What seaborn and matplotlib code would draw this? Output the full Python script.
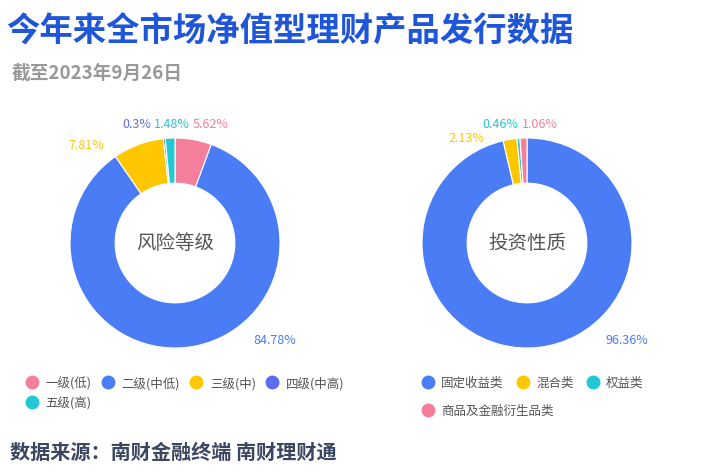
import matplotlib
matplotlib.use("Agg")
import matplotlib.pyplot as plt
import seaborn as sns
from matplotlib.lines import Line2D

sns.set_theme(style="white", rc={"font.family": "Noto Sans CJK SC"})

risk_labels = ["一级(低)", "二级(中低)", "三级(中)", "四级(中高)", "五级(高)"]
risk_values = [5.62, 84.78, 7.81, 0.30, 1.48]
risk_colors = ["#F47F9A", "#4A7CF6", "#FFC700", "#5B6EF0", "#22C9D4"]

type_labels = ["固定收益类", "混合类", "权益类", "商品及金融衍生品类"]
type_values = [96.36, 2.13, 0.46, 1.06]
type_colors = ["#4A7CF6", "#FFC700", "#22C9D4", "#F47F9A"]

W, H = 702, 477
fig = plt.figure(figsize=(W / 100, H / 100), dpi=100)
R = 105
half = 1.7

def add_donut(cx, cy, values, colors, center_text, label_pos):
    size = 2 * half * R
    ax = fig.add_axes([(cx - half * R) / W, 1 - (cy + half * R) / H, size / W, size / H])
    ax.pie(values, colors=colors, startangle=90, counterclock=False,
           wedgeprops=dict(width=0.43, edgecolor="white", linewidth=0.8), radius=1)
    ax.set_xlim(-half, half); ax.set_ylim(-half, half); ax.set_aspect("equal"); ax.axis("off")
    ax.text(0, 0, center_text, ha="center", va="center", fontsize=14, color="#555555")
    for v, c, (x, y) in zip(values, colors, label_pos):
        ax.text(x, y, f"{v:g}%", ha="center", va="center", fontsize=9, color=c)
    return ax

add_donut(175, 244, risk_values, risk_colors, "风险等级",
          [(0.34, 1.14), (0.95, -0.92), (-0.84, 0.94), (-0.36, 1.14), (-0.03, 1.14)])
add_donut(527, 244, type_values, type_colors, "投资性质",
          [(0.95, -0.92), (-0.58, 1.00), (-0.25, 1.14), (0.12, 1.14)])

fig.text(6 / W, 1 - 32 / H, "今年来全市场净值型理财产品发行数据", fontsize=24, fontweight="bold",
         color="#1F55D8", va="center")
fig.text(12 / W, 1 - 73 / H, "截至2023年9月26日", fontsize=13.5, fontweight="bold",
         color="#999999", va="center")
fig.text(10 / W, 1 - 452 / H, "数据来源：南财金融终端 南财理财通", fontsize=14.5, fontweight="bold",
         color="#3B4660", va="center")

def handles(idx, labels, colors):
    return [Line2D([], [], marker="o", linestyle="", markersize=9, markerfacecolor=colors[i],
                   markeredgecolor=colors[i], label=labels[i]) for i in idx]

leg_kw = dict(frameon=False, fontsize=9, handletextpad=0.1, borderaxespad=0,
              labelcolor="#555555", labelspacing=0.55, loc="upper left")
fig.legend(handles=handles([0, 4, 1, 2, 3], risk_labels, risk_colors), ncol=4, columnspacing=0.3,
           bbox_to_anchor=(14 / W, 1 - 372 / H), **leg_kw)
fig.legend(handles=handles([0, 1, 2], type_labels, type_colors), ncol=3, columnspacing=0.5,
           bbox_to_anchor=(410 / W, 1 - 372 / H), **leg_kw)
fig.legend(handles=handles([3], type_labels, type_colors), ncol=1,
           bbox_to_anchor=(410 / W, 1 - 400 / H), **leg_kw)

fig.savefig("out.png", dpi=100)
